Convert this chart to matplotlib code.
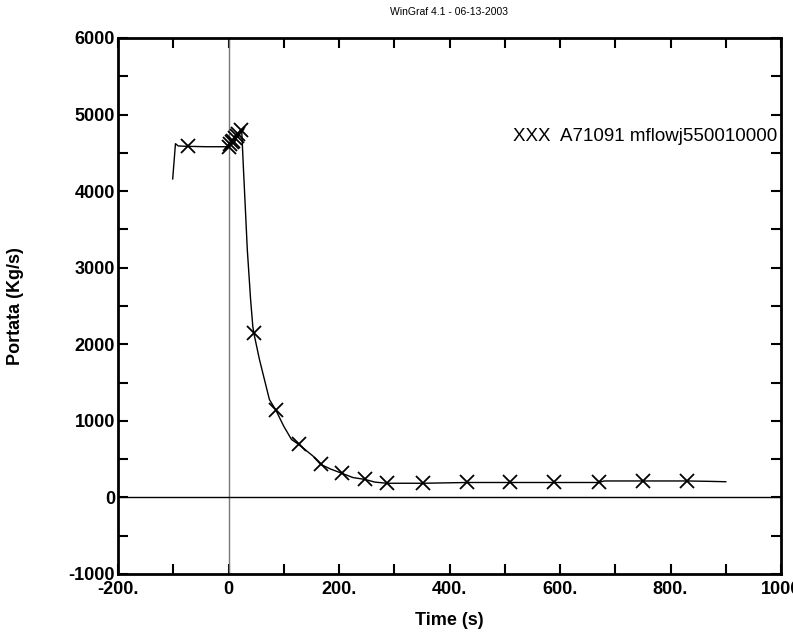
import matplotlib
matplotlib.use("Agg")
import matplotlib.pyplot as plt
from matplotlib.ticker import MultipleLocator

plt.rcParams['font.family'] = ['Liberation Sans', 'DejaVu Sans']

# curve: time (s) and flow (Kg/s)
time = [-101, -96, -91, -73, -40, 0, 3, 6, 9, 12, 15, 18, 22, 24, 27, 30, 34,
        40, 44, 46, 56, 74, 86, 100, 114, 127, 153, 167, 185, 206, 225, 247,
        265, 287, 352, 431, 510, 590, 670, 680, 750, 830, 870, 900]
flow = [4160, 4620, 4590, 4585, 4580, 4580, 4610, 4640, 4660, 4690, 4720, 4750,
        4800, 4780, 4300, 3850, 3240, 2585, 2232, 2141, 1802, 1279, 1136, 930,
        757, 692, 540, 431, 370, 313, 260, 235, 200, 185, 185, 195, 195, 195,
        195, 215, 215, 215, 210, 205]

# X markers along the curve
mark_t = [-73, 0, 3, 6, 9, 12, 15, 18, 22, 46, 86, 127, 167, 206, 247, 287,
          352, 431, 510, 590, 670, 750, 830]
mark_v = [4585, 4580, 4610, 4640, 4660, 4690, 4720, 4750, 4800, 2141, 1136,
          692, 431, 313, 235, 185, 185, 205, 205, 205, 205, 220, 220]

xticks = [-200, 0, 200, 400, 600, 800, 1000]
xtick_labels = ['-200.', '0', '200.', '400.', '600.', '800.', '1000']
yticks = [-1000, 0, 1000, 2000, 3000, 4000, 5000, 6000]
ytick_labels = ['-1000', '0', '1000', '2000', '3000', '4000', '5000', '6000']

fig = plt.figure(figsize=(7.93, 6.36), dpi=100)
ax = fig.add_axes([118 / 793, 1 - 574 / 636, (781 - 118) / 793, (574 - 38) / 636])

ax.axvline(0, color='#777777', lw=1)
ax.axhline(0, color='black', lw=1)
ax.plot(time, flow, color='black', lw=1)
ax.plot(mark_t, mark_v, ls='none', marker='x', ms=10, mew=1.3, color='black')

ax.set_xlim(-200, 1000)
ax.set_ylim(-1000, 6000)
ax.set_xticks(xticks)
ax.set_xticklabels(xtick_labels, fontweight='bold', fontsize=13)
ax.set_yticks(yticks)
ax.set_yticklabels(ytick_labels, fontweight='bold', fontsize=13)
ax.xaxis.set_minor_locator(MultipleLocator(100))
ax.yaxis.set_minor_locator(MultipleLocator(500))
ax.tick_params(which='both', direction='in', length=7.5, width=1.5,
               top=True, right=True)
ax.tick_params(axis='x', pad=5)
ax.tick_params(axis='y', pad=2)
for s in ax.spines.values():
    s.set_linewidth(2)

ax.set_xlabel('Time (s)', fontweight='bold', fontsize=13, labelpad=10)
ax.set_ylabel('Portata (Kg/s)', fontweight='bold', fontsize=13, labelpad=32)

ax.text(0.995, 4713, 'XXX  A71091 mflowj550010000', transform=ax.get_yaxis_transform(),
        ha='right', va='center', fontsize=13.5)
fig.text((118 + 781) / 2 / 793, 1 - 12 / 636, 'WinGraf 4.1 - 06-13-2003',
         ha='center', va='center', fontsize=7.5)

fig.savefig('out.png', dpi=100)
